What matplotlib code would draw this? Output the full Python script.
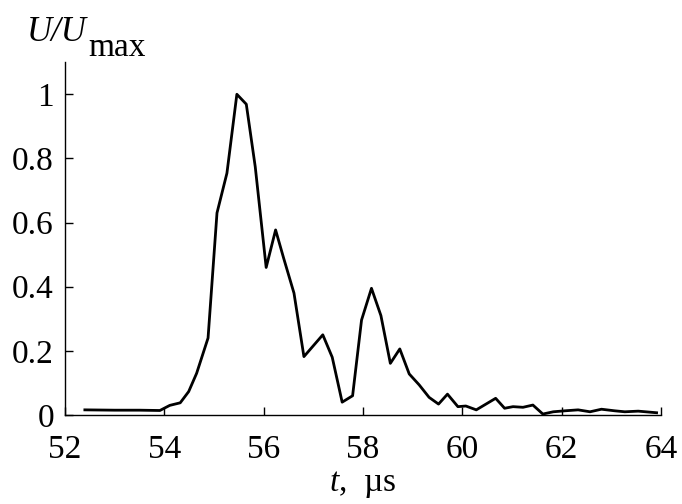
import matplotlib
matplotlib.use("Agg")
import matplotlib.pyplot as plt

# pulse shape
t_us = [52.40, 53.00, 53.50, 53.91, 54.11, 54.32, 54.49, 54.65, 54.88, 55.06,
        55.26, 55.46, 55.65, 55.83, 56.05, 56.24, 56.40, 56.61, 56.81, 57.19,
        57.38, 57.58, 57.79, 57.97, 58.17, 58.36, 58.55, 58.74, 58.93, 59.13,
        59.33, 59.52, 59.70, 59.91, 60.07, 60.28, 60.67, 60.85, 61.02, 61.22,
        61.42, 61.62, 61.83, 62.06, 62.33, 62.57, 62.80, 63.07, 63.27, 63.54,
        63.91]
u_norm = [0.016, 0.015, 0.015, 0.014, 0.030, 0.038, 0.073, 0.130, 0.240, 0.630,
          0.754, 1.000, 0.969, 0.774, 0.460, 0.577, 0.490, 0.380, 0.182, 0.250,
          0.180, 0.040, 0.060, 0.296, 0.395, 0.310, 0.161, 0.206, 0.128, 0.094,
          0.055, 0.034, 0.065, 0.026, 0.028, 0.016, 0.052, 0.021, 0.026, 0.024,
          0.031, 0.003, 0.010, 0.013, 0.016, 0.010, 0.018, 0.013, 0.010, 0.012,
          0.007]

x_ticks = [52, 54, 56, 58, 60, 62, 64]
y_ticks = [0, 0.2, 0.4, 0.6, 0.8, 1.0]
y_tick_labels = ["0", "0.2", "0.4", "0.6", "0.8", "1"]

plt.rcParams['font.family'] = ['Liberation Serif', 'DejaVu Serif']
plt.rcParams['mathtext.fontset'] = 'custom'
plt.rcParams['mathtext.rm'] = 'Liberation Serif'
plt.rcParams['mathtext.it'] = 'Liberation Serif:italic'

fig = plt.figure(figsize=(6.82, 5.04), dpi=100)
ax = fig.add_axes([0.0953, 0.1766, 0.874, 0.70])

ax.plot(t_us, u_norm, color='black', linewidth=2.0)

ax.set_xlim(52, 64)
ax.set_ylim(0, 1.1)
ax.set_xticks(x_ticks)
ax.set_yticks(y_ticks)
ax.set_yticklabels(y_tick_labels)
ax.tick_params(direction='in', length=6, width=1, labelsize=24)
ax.tick_params(axis='y', pad=8)
ax.tick_params(axis='x', pad=14)

ax.spines['top'].set_visible(False)
ax.spines['right'].set_visible(False)
for s in ('left', 'bottom'):
    ax.spines[s].set_linewidth(1)

ax.set_xlabel("$t$,  µs", fontsize=24, labelpad=3)

fig.text(0.040, 0.918, "U/U", fontsize=25, fontstyle='italic')
fig.text(0.130, 0.888, "max", fontsize=24)

fig.savefig("out.png", dpi=100)
